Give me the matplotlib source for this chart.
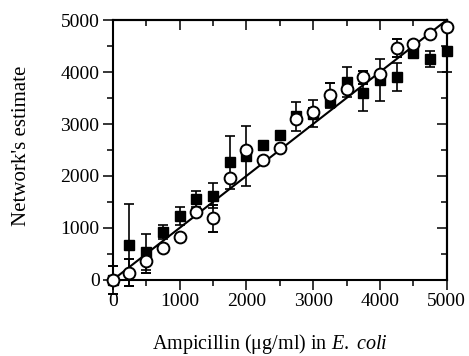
"""Network's estimate vs. ampicillin concentration in E. coli (squares / circles with error bars)."""

import matplotlib
matplotlib.use("Agg")
import matplotlib.pyplot as plt
from matplotlib.ticker import MultipleLocator

# Data
conc = [0, 250, 500, 750, 1000, 1250, 1500, 1750, 2000, 2250, 2500,
        2750, 3000, 3250, 3500, 3750, 4000, 4250, 4500, 4750, 5000]

squares = [0, 673, 533, 917, 1231, 1558, 1621, 2263, 2385, 2596, 2788,
           3150, 3200, 3430, 3810, 3590, 3846, 3910, 4370, 4250, 4400]
squares_err = [0, 790, 350, 135, 167, 154, 240, 510, 580, 60, 60,
               280, 260, 120, 290, 335, 400, 270, 60, 160, 400]

circles = [0, 140, 365, 610, 833, 1313, 1187, 1956, 2500, 2308, 2533,
           3096, 3240, 3550, 3667, 3897, 3962, 4455, 4530, 4724, 4860]
circles_err = [270, 260, 236, 60, 60, 60, 258, 60, 60, 60, 60,
               60, 60, 230, 60, 130, 60, 175, 60, 60, 60]

x_ticks = [0, 1000, 2000, 3000, 4000, 5000]
y_ticks = [0, 1000, 2000, 3000, 4000, 5000]

plt.rcParams["font.family"] = ["Liberation Serif", "DejaVu Serif"]
plt.rcParams["mathtext.fontset"] = "custom"
plt.rcParams["mathtext.rm"] = "Liberation Serif"
plt.rcParams["mathtext.it"] = "Liberation Serif:italic"

fig = plt.figure(figsize=(4.69, 3.56), dpi=100)
ax = fig.add_axes([0.2403, 0.2135, 0.7122, 0.7303])

# identity line (perfect estimate)
ax.plot(conc, conc, color="black", linewidth=1.5, zorder=2, clip_on=False)

# squares first, circles drawn on top
ax.errorbar(conc, squares, yerr=squares_err, fmt="s", color="black",
            markersize=7.5, ecolor="black", elinewidth=1.2, capsize=3.6,
            capthick=1.2, zorder=3, clip_on=False)
ax.errorbar(conc, circles, yerr=circles_err, fmt="o", markerfacecolor="white",
            markeredgecolor="black", markeredgewidth=1.4, markersize=8.5,
            ecolor="black", elinewidth=1.2, capsize=3.6, capthick=1.2,
            zorder=4, clip_on=False)

ax.set_xlim(0, 5000)
ax.set_ylim(0, 5000)
ax.set_xticks(x_ticks)
ax.set_yticks(y_ticks)
ax.xaxis.set_minor_locator(MultipleLocator(500))
ax.yaxis.set_minor_locator(MultipleLocator(500))

for side in ax.spines.values():
    side.set_linewidth(1.5)

# left/bottom ticks point out, top/right point in
ax.tick_params(axis="both", which="major", length=7.5, width=1.1, labelsize=14, pad=2)
ax.tick_params(axis="both", which="minor", length=4, width=1.1)
ax.tick_params(axis="both", which="both", direction="out", top=False, right=False)

sx = ax.secondary_xaxis("top")
sx.set_xticks(x_ticks)
sx.xaxis.set_minor_locator(MultipleLocator(500))
sx.tick_params(which="major", direction="in", length=7.5, width=1.1, labeltop=False)
sx.tick_params(which="minor", direction="in", length=4, width=1.1)
sx.spines["top"].set_linewidth(1.5)

sy = ax.secondary_yaxis("right")
sy.set_yticks(y_ticks)
sy.yaxis.set_minor_locator(MultipleLocator(500))
sy.tick_params(which="major", direction="in", length=7.5, width=1.1, labelright=False)
sy.tick_params(which="minor", direction="in", length=4, width=1.1)
sy.spines["right"].set_linewidth(1.5)

ax.set_xlabel("Ampicillin (μg/ml) in $\\mathit{E.\\ coli}$", fontsize=14.5)
ax.set_ylabel("Network's estimate", fontsize=15)
ax.xaxis.set_label_coords(0.47, -0.2)
ax.yaxis.set_label_coords(-0.245, 0.515)

fig.savefig("out.png", dpi=100)
